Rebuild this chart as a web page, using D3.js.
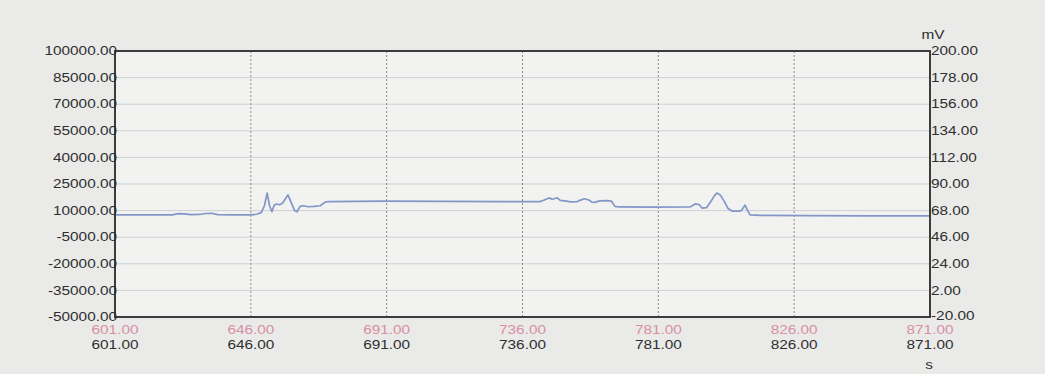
<!DOCTYPE html>
<html>
<head>
<meta charset="utf-8">
<script src="https://cdn.jsdelivr.net/npm/d3@7"></script>
<style>
  html, body { margin: 0; padding: 0; background: #eaeae9; }
  svg { display: block; }
  text { font-family: "Liberation Sans", Arial, sans-serif; font-size: 12px; fill: #2f2f2f; }
</style>
</head>
<body>
<svg id="chart" width="1045" height="374"></svg>
<script>
// Time axis (s) and signal (mV)
const timeS = [601, 610, 620, 622, 624, 626, 629, 631, 633, 635, 640, 646, 648, 649.5, 650.5, 651.4, 652.2, 653.0,
  653.7, 654.5, 655.5, 656.5, 657.5, 658.3, 659.3, 660.5, 661.3, 662.3, 663.5, 665, 667, 669, 670.6, 672,
  690, 710, 730, 741.8, 743, 744.8, 745.8, 746.5, 747.4, 748.5, 750, 752, 754, 755, 756.5, 758, 759, 760,
  761.5, 764, 765.5, 766.6, 768, 780, 791.5, 793.2, 794.5, 795.5, 797, 798.5, 799.5, 800.4, 801.5, 803,
  804, 805.5, 807.4, 808.5, 809.7, 810.6, 811.4, 815, 830, 850, 871];
const signalMV = [64.5, 64.4, 64.5, 65.5, 65.3, 64.6, 64.8, 65.6, 65.8, 64.7, 64.4, 64.5, 65.0, 66.5, 72, 82.5, 72, 67,
  72.5, 73.5, 72.8, 74, 78, 81, 75, 68, 67, 71.5, 72, 71.2, 71.5, 72, 75, 75.5,
  75.8, 75.7, 75.5, 75.4, 76.5, 78.5, 77.5, 77.8, 78.6, 76.5, 76, 75.2, 75.3, 76.5, 77.8, 76.8, 75.0, 74.8,
  76, 76.2, 75.8, 71.5, 71, 70.9, 71, 73.5, 73, 70, 70.5, 76, 80, 82.5, 81, 75,
  70, 67.5, 67.5, 68, 72.5, 68, 64.5, 64, 63.8, 63.6, 63.6];

// Tick values
const xTicks = [601, 646, 691, 736, 781, 826, 871];
const leftTicks = [100000, 85000, 70000, 55000, 40000, 25000, 10000, -5000, -20000, -35000, -50000];
const rightTicks = [200, 178, 156, 134, 112, 90, 68, 46, 24, 2, -20];

const plot = { left: 115, right: 930, top: 51, bottom: 317 };
const svg = d3.select("#chart");

const x = d3.scaleLinear().domain([601, 871]).range([plot.left, plot.right]);
const yLeft = d3.scaleLinear().domain([-50000, 100000]).range([plot.bottom, plot.top]);
const yRight = d3.scaleLinear().domain([-20, 200]).range([plot.bottom, plot.top]);

const stretch = 1.28; // wide lettering of the recorder printout

// plot background
svg.append("rect")
  .attr("x", plot.left).attr("y", plot.top)
  .attr("width", plot.right - plot.left).attr("height", plot.bottom - plot.top)
  .attr("fill", "#f2f2f1");

// horizontal grid
svg.append("g").selectAll("line").data(leftTicks.slice(1, -1)).join("line")
  .attr("x1", plot.left).attr("x2", plot.right)
  .attr("y1", d => yLeft(d)).attr("y2", d => yLeft(d))
  .attr("stroke", "#cfd0d2").attr("stroke-width", 1);

// vertical grid
svg.append("g").selectAll("line").data(xTicks.slice(1, -1)).join("line")
  .attr("x1", d => x(d)).attr("x2", d => x(d))
  .attr("y1", plot.top).attr("y2", plot.bottom)
  .attr("stroke", "#8a8a8a").attr("stroke-width", 1)
  .attr("stroke-dasharray", "2,2");

// signal trace
const line = d3.line().x((d, i) => x(timeS[i])).y(d => yRight(d));
svg.append("path")
  .datum(signalMV)
  .attr("d", line)
  .attr("fill", "none")
  .attr("stroke", "#8496c8")
  .attr("stroke-width", 1.7)
  .attr("stroke-linejoin", "round");

// frame
svg.append("rect")
  .attr("x", plot.left).attr("y", plot.top)
  .attr("width", plot.right - plot.left).attr("height", plot.bottom - plot.top)
  .attr("fill", "none").attr("stroke", "#3c3c3c").attr("stroke-width", 2);

function label(g, tx, ty, str, anchor, color) {
  g.append("text")
    .attr("transform", `translate(${tx},${ty}) scale(${stretch},1)`)
    .attr("text-anchor", anchor)
    .attr("dy", "0.35em")
    .style("fill", color || "#2f2f2f")
    .text(str);
}

// left axis labels
const gl = svg.append("g");
leftTicks.forEach(v => label(gl, plot.left + 2, yLeft(v), v.toFixed(2), "end"));

// right axis labels (the lowest one sits just above the pink time row)
const gr = svg.append("g");
rightTicks.forEach(v => label(gr, plot.right + 1, yRight(v) - (v === -20 ? 1 : 0), v.toFixed(2), "start"));
label(gr, 933, 35, "mV", "middle");

// x axis labels: two rows
const gx = svg.append("g");
xTicks.forEach(v => {
  label(gx, x(v), 330, v.toFixed(2), "middle", "#d98fa6");
  label(gx, x(v), 345, v.toFixed(2), "middle");
});
label(gx, 929, 365, "s", "middle");
</script>
</body>
</html>
